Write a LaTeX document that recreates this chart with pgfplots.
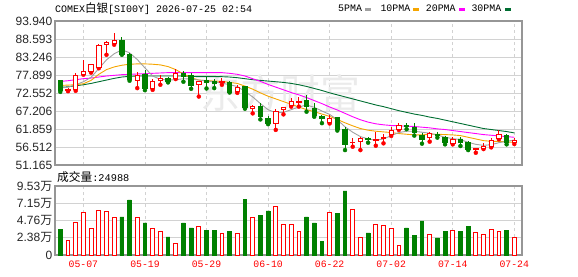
\documentclass[border=0pt]{standalone}
\usepackage{pgfplots}
\pgfplotsset{compat=1.18}
\usepackage{pgfplotstable}
\usepackage{fontspec}
\setmainfont{Liberation Sans}
\setmonofont{Liberation Mono}
\newfontfamily\cjk{Noto Sans CJK SC}
\definecolor{upred}{RGB}{255,0,0}
\definecolor{dngreen}{RGB}{0,128,0}
\definecolor{maA}{RGB}{160,160,160}
\definecolor{maB}{RGB}{245,165,0}
\definecolor{maC}{RGB}{255,0,255}
\definecolor{maD}{RGB}{0,110,50}
\definecolor{framec}{RGB}{150,150,150}
\definecolor{gridc}{RGB}{210,210,210}

% i open high low close volume(wan)
\pgfplotstableread{
i o h l c v
1 73.4 74.0 73.1 73.6 2.03
2 73.6 78.5 73.2 77.8 4.51
3 78.1 82.5 78.0 79.0 5.89
4 78.9 81.0 78.6 80.9 3.68
5 80.2 87.1 79.9 86.8 6.17
6 87.0 87.9 83.9 87.6 6.03
7 87.4 90.4 86.9 88.2 5.20
10 76.3 78.9 74.0 77.8 5.20
12 74.0 76.8 73.5 76.1 3.68
13 76.3 78.0 75.0 77.0 3.27
15 76.9 79.7 76.7 78.4 1.61
18 75.2 76.1 71.5 76.0 3.96
21 75.6 77.0 75.0 75.9 2.99
23 73.1 75.0 72.6 74.1 3.04
25 68.0 69.0 66.5 68.5 5.20
28 63.6 67.8 61.6 67.2 6.72
29 67.8 68.5 66.2 68.2 4.28
30 69.0 71.0 68.5 70.0 4.28
31 69.7 71.3 68.5 70.1 3.31
35 63.7 66.0 63.5 65.0 5.89
38 57.8 59.1 56.6 58.0 6.31
39 58.1 59.6 55.6 59.1 2.44
41 58.6 61.1 56.9 58.9 4.28
42 59.0 60.4 57.6 59.4 4.10
43 60.1 62.5 59.8 61.3 3.68
44 61.8 63.6 61.6 62.8 1.33
48 59.3 61.1 58.1 60.4 2.85
51 57.6 59.4 57.3 58.8 3.41
54 55.7 56.2 54.8 56.1 3.13
55 56.1 57.6 55.9 56.6 2.85
56 56.6 59.1 56.4 58.6 3.54
57 59.1 61.6 58.8 60.1 3.27
59 57.8 59.1 57.4 58.6 2.44
}\redtab

\pgfplotstableread{
i o h l c v
0 76.3 76.5 72.9 73.4 3.59
8 88.2 89.2 83.9 84.1 5.25
9 84.1 84.3 76.2 76.5 7.60
11 78.2 79.3 73.4 74.0 4.42
14 77.0 77.2 75.7 76.0 2.49
16 78.3 79.1 75.9 77.6 4.42
17 77.7 78.4 73.8 74.9 3.73
19 76.2 77.3 73.9 75.7 3.45
20 76.0 76.8 74.0 75.5 3.45
22 75.8 76.0 72.7 72.8 3.31
24 74.4 74.5 67.9 68.2 7.73
26 68.5 69.5 64.7 65.5 5.52
27 65.0 65.7 63.3 63.6 6.08
32 70.3 72.0 67.0 68.5 5.25
33 68.0 69.7 65.5 65.8 4.42
34 65.7 66.0 63.6 64.9 1.93
36 65.2 65.3 61.4 61.6 5.80
37 61.6 62.5 55.6 57.4 8.84
40 59.1 59.6 57.8 58.8 3.04
45 62.9 63.7 61.8 62.7 3.73
46 62.4 63.5 59.9 60.9 2.76
47 59.9 60.6 57.5 58.8 4.70
49 60.2 61.1 59.3 60.0 2.35
50 59.3 59.8 57.3 58.0 3.31
52 58.9 59.6 56.8 57.9 3.31
53 57.8 58.2 55.6 55.8 4.00
58 59.8 60.4 57.3 57.8 3.45
}\greentab

\pgfplotstableread{
i m5 m10 m20 m30
0 74.0 74.8 76.0 74.2
1 74.3 74.9 76.2 74.4
2 75.0 75.0 76.5 74.7
3 75.9 75.3 76.8 75.0
4 77.2 76.3 77.0 75.4
5 79.8 78.1 77.3 75.9
6 82.4 79.5 77.6 76.4
7 84.2 80.3 77.8 76.9
8 85.4 80.8 78.0 77.3
9 84.5 81.1 78.1 77.5
10 82.5 81.2 78.2 77.6
11 80.0 81.2 78.3 77.6
12 77.6 81.1 78.4 77.6
13 76.6 80.9 78.5 77.6
14 76.4 80.4 78.6 77.6
15 76.5 79.5 78.6 77.6
16 76.8 78.2 78.6 77.6
17 76.7 77.1 78.6 77.5
18 76.4 76.4 78.6 77.4
19 76.2 76.2 78.6 77.4
20 75.8 76.1 78.6 77.4
21 75.5 76.0 78.6 77.4
22 75.0 75.7 78.4 77.3
23 74.5 75.4 78.1 77.1
24 73.0 74.6 77.6 76.8
25 71.4 73.7 76.8 76.5
26 69.4 72.6 76.0 76.3
27 67.6 71.6 75.1 76.1
28 66.7 70.8 74.3 75.9
29 66.8 70.0 73.5 75.7
30 67.6 69.2 72.7 75.4
31 68.4 68.4 72.0 75.0
32 69.0 67.6 71.2 74.5
33 68.3 67.0 70.3 73.9
34 67.2 66.3 69.4 73.3
35 66.2 65.6 68.4 72.6
36 64.6 64.7 67.5 72.0
37 62.5 63.7 66.5 71.4
38 60.9 62.8 65.5 70.8
39 59.6 62.0 64.6 70.2
40 58.9 61.5 63.9 69.6
41 58.5 61.2 63.4 69.0
42 58.9 61.0 63.1 68.5
43 59.9 60.8 62.9 67.9
44 60.8 60.5 62.8 67.3
45 61.2 60.3 62.7 66.8
46 61.2 60.1 62.6 66.3
47 60.9 60.1 62.4 65.9
48 60.6 60.3 62.2 65.4
49 60.1 60.3 61.9 65.0
50 59.4 60.2 61.7 64.5
51 59.0 60.1 61.4 64.0
52 58.7 59.9 61.1 63.5
53 57.9 59.4 60.8 63.0
54 57.3 58.9 60.5 62.5
55 57.0 58.4 60.2 62.0
56 57.2 58.2 60.0 61.7
57 57.8 58.2 59.8 61.4
58 58.2 58.0 59.6 61.1
59 58.6 57.9 59.4 60.7
}\matab

\pgfplotsset{
  pricebox/.style={
    at={(55pt,111pt)}, anchor=south west, scale only axis,
    width=467pt, height=144pt,
    xmin=-0.69, xmax=60, ymin=51.165, ymax=93.94,
  },
  volbox/.style={
    at={(55pt,21pt)}, anchor=south west, scale only axis,
    width=467pt, height=69pt,
    xmin=-0.69, xmax=60, ymin=0, ymax=9.53,
  },
  framed/.style={
    axis line style={framec, line width=1.2pt},
    major tick length=0pt,
    ymajorgrids, xmajorgrids,
    y grid style={gridc, line width=0.8pt},
    x grid style={gridc, line width=0.8pt, dash pattern=on 3pt off 3pt},
    yticklabel style={font=\fontsize{12}{14}\selectfont, text=black!85, anchor=east, inner sep=0pt, xshift=-2.5pt},
    xtick={3,11,19,27,35,43,51,59},
  },
}

\begin{document}
\begin{tikzpicture}
\useasboundingbox (0,0) rectangle (578pt,276pt);

% ---------- price panel ----------
\begin{axis}[pricebox, framed,
  ytick={51.165,56.512,61.859,67.206,72.552,77.899,83.246,88.593,93.940},
  yticklabels={51.165,56.512,61.859,67.206,72.552,77.899,83.246,88.593,93.940},
  xticklabels={},
]
\node[text=black!8, font=\cjk\fontsize{40}{40}\selectfont, inner sep=0pt] at (axis cs:28.6,72.6) {东方财富};
\addplot[maD, line width=0.9pt] table[x=i, y=m30] {\matab};
\addplot[maC, line width=0.9pt] table[x=i, y=m20] {\matab};
\addplot[maB, line width=0.9pt] table[x=i, y=m10] {\matab};
\addplot[maA, line width=0.9pt] table[x=i, y=m5] {\matab};
% wicks
\addplot[upred, only marks, mark=none, error bars/.cd, y dir=plus, y explicit, error mark=none,
  error bar style={draw=upred, line width=0.9pt, solid}]
  table[x=i, y=l, y error expr=\thisrow{h}-\thisrow{l}] {\redtab};
\addplot[dngreen, only marks, mark=none, error bars/.cd, y dir=plus, y explicit, error mark=none,
  error bar style={draw=dngreen, line width=0.9pt, solid}]
  table[x=i, y=l, y error expr=\thisrow{h}-\thisrow{l}] {\greentab};
\end{axis}

% rising bodies (hollow red)
\begin{axis}[pricebox, hide axis, ybar stacked, bar width=4.4pt]
\addplot[draw=none, fill=none] table[x=i, y=o] {\redtab};
\addplot[draw=upred, fill=white, line width=0.9pt] table[x=i, y expr=\thisrow{c}-\thisrow{o}] {\redtab};
\end{axis}

% falling bodies (filled green)
\begin{axis}[pricebox, hide axis, ybar stacked, bar width=4.4pt]
\addplot[draw=none, fill=none] table[x=i, y=c] {\greentab};
\addplot[draw=dngreen, fill=dngreen, line width=0.9pt] table[x=i, y expr=\thisrow{o}-\thisrow{c}] {\greentab};
\end{axis}

% ---------- volume panel ----------
\begin{axis}[volbox, framed,
  ytick={0,2.38,4.76,7.15,9.53},
  yticklabels={0,2.38{\cjk 万},4.76{\cjk 万},7.15{\cjk 万},9.53{\cjk 万}},
  xticklabels={05-07,05-19,05-29,06-10,06-22,07-02,07-14,07-24},
  xticklabel style={text=upred, font=\ttfamily\fontsize{9.8}{10}\selectfont, anchor=north, inner sep=0pt, yshift=-6pt},
  ybar, bar width=3.8pt,
]
\addplot[bar shift=0pt, draw=upred, fill=white, line width=0.9pt] table[x=i, y=v] {\redtab};
\addplot[bar shift=0pt, draw=dngreen, fill=dngreen, line width=0.9pt] table[x=i, y=v] {\greentab};
\end{axis}

% ---------- texts ----------
\node[anchor=west, inner sep=0pt] at (55pt,267.7pt)
  {\ttfamily\fontsize{10}{12}\selectfont COMEX{\cjk\fontsize{11.5}{12}\selectfont 白银}[SI00Y] 2026-07-25 02:54};

\node[anchor=west, inner sep=0pt] at (338pt,267.5pt) {\ttfamily\fontsize{9.9}{12}\selectfont 5PMA};
\draw[maA, line width=2.7pt] (365pt,266.3pt) -- (371pt,266.3pt);
\node[anchor=west, inner sep=0pt] at (380.3pt,267.5pt) {\ttfamily\fontsize{9.9}{12}\selectfont 10PMA};
\draw[maB, line width=2.7pt] (413pt,266.3pt) -- (419pt,266.3pt);
\node[anchor=west, inner sep=0pt] at (425.7pt,267.5pt) {\ttfamily\fontsize{9.9}{12}\selectfont 20PMA};
\draw[maC, line width=2.7pt] (459pt,266.3pt) -- (465pt,266.3pt);
\node[anchor=west, inner sep=0pt] at (471.3pt,267.5pt) {\ttfamily\fontsize{9.9}{12}\selectfont 30PMA};
\draw[maD, line width=2.7pt] (505pt,266.3pt) -- (510.5pt,266.3pt);

\node[anchor=west, inner sep=0pt] at (57pt,98.7pt)
  {{\cjk\fontsize{11.7}{12}\selectfont 成交量}\ttfamily\fontsize{10.3}{12}\selectfont :24988};
\end{tikzpicture}
\end{document}
